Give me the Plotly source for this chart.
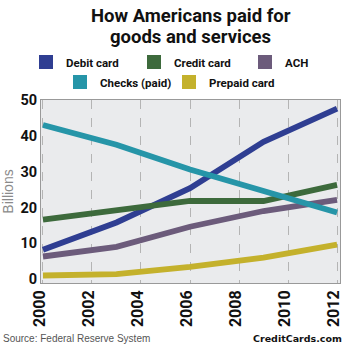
import plotly.graph_objects as go

years = [2000, 2003, 2006, 2009, 2012]
debit = [8.2, 15.8, 25.4, 38.3, 47.6]
credit = [16.6, 19.3, 21.8, 21.8, 26.3]
ach = [6.3, 9.0, 14.6, 19.0, 22.1]
checks = [43.0, 37.5, 30.6, 24.5, 18.6]
prepaid = [1.0, 1.4, 3.4, 6.0, 9.6]

names = ["Debit card", "Credit card", "ACH", "Checks (paid)", "Prepaid card"]
values = [debit, credit, ach, checks, prepaid]
colors = ["#2f3e92", "#3d6a3c", "#6c5b7b", "#2695a8", "#c4b12c"]
tick_years = [2000, 2002, 2004, 2006, 2008, 2010, 2012]

# legend box left edge (px) and row centre (px from top) for each entry
leg_pos = [(26, 62), (134, 62), (245, 62), (60, 82), (169, 82)]

FONT = "Roboto, Liberation Sans, sans-serif"
PLOT_H = 344 - 100 - 61
PLOT_W = 344 - 41 - 4

fig = go.Figure()
for name, vals, col in zip(names, values, colors):
    fig.add_trace(go.Scatter(x=years, y=vals, mode="lines", name=name,
                             line=dict(color=col, width=5.8), showlegend=False))

legend_layout = {}
for i, (name, col, (px, py)) in enumerate(zip(names, colors, leg_pos)):
    key = "legend" if i == 0 else f"legend{i + 1}"
    fig.add_trace(go.Scatter(x=[None], y=[None], mode="markers", name=name,
                             marker=dict(color=col, symbol="square", size=14),
                             legend=key, showlegend=True))
    legend_layout[key] = dict(x=px / 344, xref="container", xanchor="left",
                              y=1 - py / 344, yref="container", yanchor="middle",
                              orientation="h", itemwidth=30,
                              bgcolor="rgba(0,0,0,0)",
                              font=dict(family=FONT, size=11.5, color="#111", weight="bold"))

fig.update_layout(
    width=344, height=344,
    margin=dict(l=41, r=4, t=100, b=61, autoexpand=False),
    paper_bgcolor="white",
    plot_bgcolor="#eaebed",
    xaxis=dict(range=[1999.92, 2012.12], tickvals=tick_years,
               ticktext=[str(y) for y in tick_years], tickangle=-90,
               tickfont=dict(family=FONT, size=16, color="#111", weight="bold"),
               ticklabeloverflow="allow", ticklabelshift=-3, automargin=False,
               showgrid=True, gridcolor="#b4b4b4", griddash="dash", gridwidth=1,
               showline=True, linecolor="#999", mirror=True, zeroline=False,
               ticks="", ticklen=0),
    yaxis=dict(range=[-1.1, 50], tickvals=[0, 10, 20, 30, 40, 50],
               ticktext=[str(v) for v in [0, 10, 20, 30, 40, 50]],
               tickfont=dict(family=FONT, size=14.5, color="#111", weight="bold"),
               automargin=False,
               showgrid=False, zeroline=False, showline=True, linecolor="#999",
               mirror=True, title=dict(text="Billions", standoff=4,
                                       font=dict(family="Liberation Sans, Arial, sans-serif",
                                                 size=14, color="#8a8a8a"))),
    annotations=[
        dict(text="<b>How Americans paid for</b>",
             x=0.5, xref="paper", xanchor="center",
             y=1 + (100 - 16) / PLOT_H, yref="paper", yanchor="middle", showarrow=False,
             font=dict(family=FONT, size=18.5, color="#111")),
        dict(text="<b>goods and services</b>",
             x=0.5, xref="paper", xanchor="center",
             y=1 + (100 - 37) / PLOT_H, yref="paper", yanchor="middle", showarrow=False,
             font=dict(family=FONT, size=18.5, color="#111")),
        dict(text="Source: Federal Reserve System", x=(1 - 41) / PLOT_W, xref="paper",
             xanchor="left", y=-(61 - 6) / PLOT_H, yref="paper", yanchor="middle",
             showarrow=False,
             font=dict(family="Liberation Sans, Arial, sans-serif", size=10, color="#555")),
        dict(text="<b>CreditCards.com</b>", x=1 + 4 / PLOT_W, xref="paper", xanchor="right",
             y=-(61 - 6) / PLOT_H, yref="paper", yanchor="middle", showarrow=False,
             font=dict(family="DejaVu Sans, Verdana, sans-serif", size=9.5, color="#111")),
    ],
    **legend_layout,
)
fig.write_html("out.html")
